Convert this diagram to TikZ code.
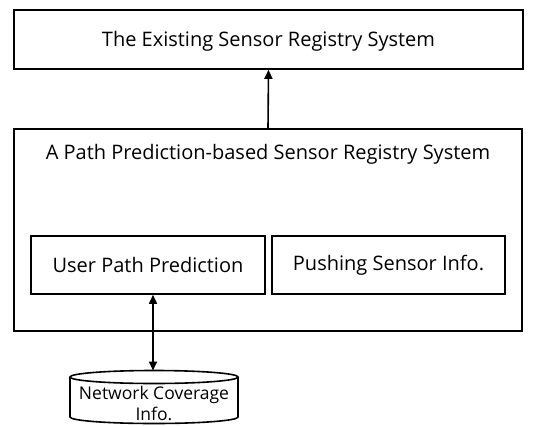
\documentclass[tikz,border=0pt]{standalone}
\usepackage{fontspec}
\setmainfont{Open Sans}
\usetikzlibrary{arrows.meta}
\begin{document}
\begin{tikzpicture}[x=1pt,y=-1pt,
  box/.style={draw,line width=1.6pt,inner sep=0pt},
  lbl/.style={font=\fontsize{20}{24}\selectfont},
  cyl/.style={draw,line width=1.6pt,fill=white},
  conn/.style={line width=1.6pt,-{Triangle[length=9pt,width=8pt]}},
  bconn/.style={line width=1.6pt,{Triangle[length=9pt,width=8pt]}-{Triangle[length=9pt,width=8pt]}}]
\useasboundingbox (0,0) rectangle (544,426);
\node[box,minimum width=509pt,minimum height=59pt] (top) at (268.5,39.5) {};
\node[lbl] (toptext) at (268.5,41) {The Existing Sensor Registry System};
\node[box,minimum width=508pt,minimum height=202pt] (outer) at (268,230) {};
\node[lbl] (outertext) at (268,154) {A Path Prediction-based Sensor Registry System};
\node[box,minimum width=234pt,minimum height=58pt,lbl] (upp) at (148,265) {User Path Prediction};
\node[box,minimum width=233pt,minimum height=58pt,lbl] (psi) at (388.5,265) {Pushing Sensor Info.};
% database cylinder
\draw[cyl] (70,377) -- (70,417) arc[start angle=180,end angle=0,x radius=84,y radius=6.5] -- (238,377);
\draw[cyl] (154,377) ellipse[x radius=84,y radius=6.5];
\coordinate (dbtop) at (154,370.5);
\node[font=\fontsize{17.5}{20.5}\selectfont,align=center] (dbtext) at (154,403.5) {Network Coverage\\Info.};
\draw[conn] (outer.north) -- (top.south);
\draw[bconn] (upp.south) ++(5,0) coordinate (a) -- (a |- dbtop);
\end{tikzpicture}
\end{document}
